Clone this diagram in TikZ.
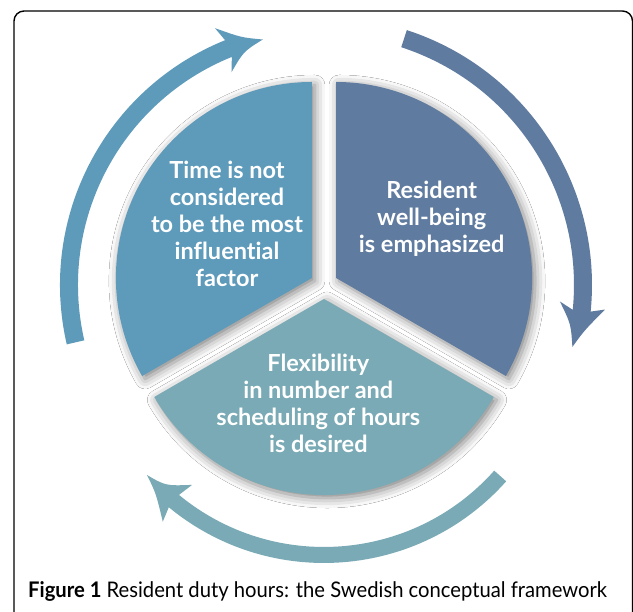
\documentclass[tikz,border=0pt]{standalone}
\usepackage{fontspec}
\setmainfont{Lato}[Ligatures=NoCommon]
\usepackage{xcolor}
\usetikzlibrary{shadows.blur}

\definecolor{timeblue}{HTML}{5E9BBB}
\definecolor{wellblue}{HTML}{5F7B9F}
\definecolor{flexteal}{HTML}{79AAB5}

\tikzset{
  sectorshadow/.style={blur shadow={shadow xshift=3pt, shadow yshift=-3pt,
      shadow blur radius=10pt, shadow opacity=50}},
  sectortext/.style={text=white, align=center, font=\fontsize{23.5}{27}\selectfont\bfseries},
}

\begin{document}
\begin{tikzpicture}[x=1pt, y=1pt]
    \clip (0, 0) rectangle (633, 612);
    \fill[white] (0, 0) rectangle (633, 612);

    % Frame
    \draw[line width=1.4pt, rounded corners=10pt] (14, -30) -- (14, 601) -- (632.5, 601) -- (632.5, -30);

    % Shadows of the three sectors
    \path[sectorshadow] (311.9, 334) -- ++(90:196) arc[start angle=90, end angle=210, radius=196] -- cycle;
    \path[sectorshadow] (336.1, 334) -- ++(-30:196) arc[start angle=-30, end angle=90, radius=196] -- cycle;
    \path[sectorshadow] (324, 313) -- ++(210:196) arc[start angle=210, end angle=330, radius=196] -- cycle;

    % Sectors
    \fill[timeblue] (311.9, 334) -- ++(90:196) arc[start angle=90, end angle=210, radius=196] -- cycle;
    \fill[wellblue] (336.1, 334) -- ++(-30:196) arc[start angle=-30, end angle=90, radius=196] -- cycle;
    \fill[flexteal] (324, 313) -- ++(210:196) arc[start angle=210, end angle=330, radius=196] -- cycle;

    \node[sectortext] (timetext) at (227, 388) {Time is not\\considered\\to be the most\\influential\\factor};
    \node[sectortext] (welltext) at (431.7, 393.7) {Resident\\well-being\\is emphasized};
    \node[sectortext] (flextext) at (318.3, 208.3) {Flexibility\\in number and\\scheduling of hours\\is desired};

    % Arrow up the left side
    \begin{scope}[shift={(324, 327)}]
        \fill[timeblue] (193:264) arc[start angle=193, end angle=112, radius=264]
            -- (113:279) .. controls (108.5:261) .. (104:253)
            .. controls (109:247) .. (113.5:232)
            -- (112:246) arc[start angle=112, end angle=193, radius=246] -- cycle;
    \end{scope}

    % Arrow down the right side
    \begin{scope}[shift={(324, 327)}]
        \fill[wellblue] (72:268) arc[start angle=72, end angle=-5.7, radius=268]
            -- (-5:282) .. controls (-10:264) .. (-14:256)
            .. controls (-9:250) .. (-4:236.5)
            -- (-5.7:250) arc[start angle=-5.7, end angle=72, radius=250] -- cycle;
    \end{scope}

    % Arrow along the bottom
    \begin{scope}[shift={(324, 293)}]
        \fill[flexteal] (-41.7:244) arc[start angle=-41.7, end angle=-129.5, radius=244]
            -- (-128.5:259) .. controls (-134:242) .. (-138.6:236)
            .. controls (-133.5:230) .. (-128.5:212)
            -- (-129.5:228) arc[start angle=-129.5, end angle=-41.7, radius=228] -- cycle;
    \end{scope}

    % Caption
    \node[anchor=base west, inner sep=0pt] (caption) at (28, 14)
        {\fontsize{21.5}{26}\selectfont\scalebox{0.94}[1]{\textbf{Figure 1} Resident duty hours: the Swedish conceptual framework}};
\end{tikzpicture}
\end{document}
